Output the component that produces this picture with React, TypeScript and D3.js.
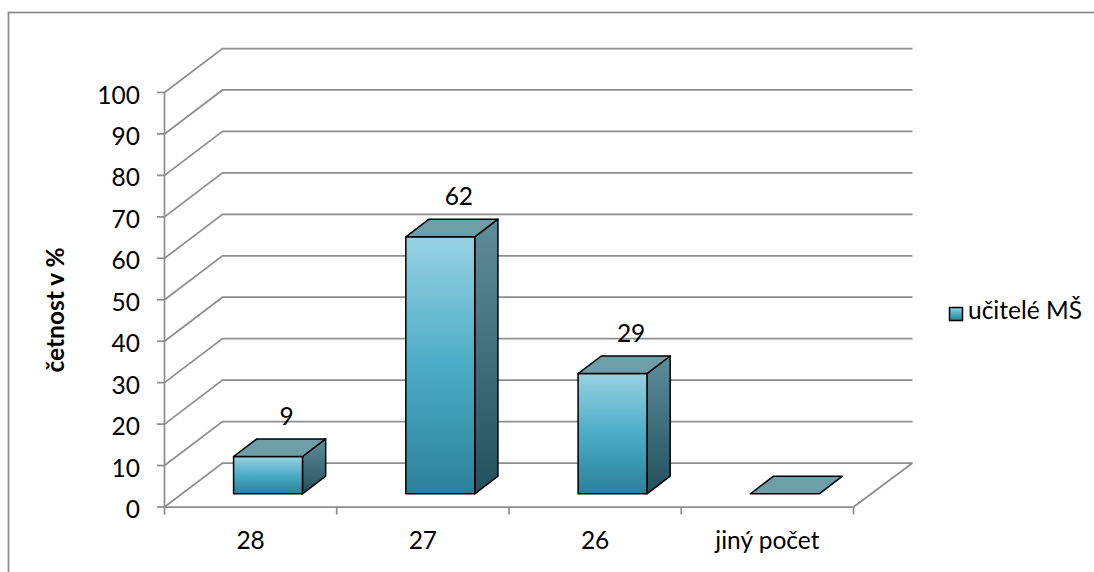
import React from 'react';
import * as d3 from 'd3';

// Share of respondents per answer (%)
const categories: string[] = ['28', '27', '26', 'jiný počet'];
const values: number[] = [9, 62, 29, 0];
const yTickValues: number[] = [0, 10, 20, 30, 40, 50, 60, 70, 80, 90, 100];
const seriesName = 'učitelé MŠ';
const axisTitle = 'četnost v %';

const W = 1094;
const H = 572;
const FONT = 'Lato, "Open Sans", sans-serif';
const FS = 24.5;

// Oblique projection of the plot box
const PLOT_LEFT = 164.5;
const PLOT_RIGHT = 853.5;
const BASE_Y = 507;
const TOP_Y = 92.5;
const DEPTH_DX = 58;
const DEPTH_DY = -44;
const FRONT_Z = 0.3;
const BACK_Z = 0.7;
const BAR_FRACTION = 0.4;

const xScale = d3.scaleBand<string>().domain(categories).range([PLOT_LEFT, PLOT_RIGHT]);
const yScale = d3.scaleLinear().domain([0, 100]).range([BASE_Y, TOP_Y]);

const dx = (z: number) => z * DEPTH_DX;
const dy = (z: number) => z * DEPTH_DY;

const pts = (p: [number, number][]) => p.map((q) => q.join(',')).join(' ');

export default function App() {
  const bw = xScale.bandwidth();
  const gridColor = '#8e8e8e';

  return (
    <svg
      width={W}
      height={H}
      style={{ position: 'absolute', left: 0, top: 0, background: '#fff' }}
      fontFamily={FONT}
    >
      <defs>
        <linearGradient id="frontGrad" x1="0" y1="0" x2="0" y2="1">
          <stop offset="0%" stopColor="#98d2e2" />
          <stop offset="50%" stopColor="#4bacc6" />
          <stop offset="100%" stopColor="#2b8199" />
        </linearGradient>
        <linearGradient id="sideGrad" x1="0" y1="0" x2="0" y2="1">
          <stop offset="0%" stopColor="#5f8e9a" />
          <stop offset="100%" stopColor="#22505d" />
        </linearGradient>
      </defs>

      {/* outer chart frame */}
      <rect x={8.5} y={12.5} width={1200} height={700} fill="none" stroke="#8c8c8c" strokeWidth={1.75} />

      {/* wall gridlines */}
      {yTickValues.map((t) => {
        const yy = yScale(t);
        return (
          <polyline
            key={'g' + t}
            points={pts([
              [PLOT_LEFT, yy],
              [PLOT_LEFT + DEPTH_DX, yy + DEPTH_DY],
              [PLOT_RIGHT + DEPTH_DX + 1, yy + DEPTH_DY],
            ])}
            fill="none"
            stroke={gridColor}
            strokeWidth={1.75}
          />
        );
      })}

      {/* floor right edge */}
      <line
        x1={PLOT_RIGHT}
        y1={BASE_Y}
        x2={PLOT_RIGHT + DEPTH_DX + 1}
        y2={BASE_Y + DEPTH_DY}
        stroke={gridColor}
        strokeWidth={1.75}
      />

      {/* bars */}
      {categories.map((c, i) => {
        const v = values[i];
        const bx = (xScale(c) as number) + bw * (1 - BAR_FRACTION) / 2;
        const w = bw * BAR_FRACTION;
        const yv = yScale(v);
        const y0 = yScale(0);
        const top: [number, number][] = [
          [bx + dx(FRONT_Z), yv + dy(FRONT_Z)],
          [bx + w + dx(FRONT_Z), yv + dy(FRONT_Z)],
          [bx + w + dx(BACK_Z), yv + dy(BACK_Z)],
          [bx + dx(BACK_Z), yv + dy(BACK_Z)],
        ];
        const side: [number, number][] = [
          [bx + w + dx(FRONT_Z), yv + dy(FRONT_Z)],
          [bx + w + dx(BACK_Z), yv + dy(BACK_Z)],
          [bx + w + dx(BACK_Z), y0 + dy(BACK_Z)],
          [bx + w + dx(FRONT_Z), y0 + dy(FRONT_Z)],
        ];
        return (
          <g key={'b' + c} stroke="#000" strokeWidth={1.5} strokeLinejoin="round">
            {v > 0 && (
              <>
                <polygon points={pts(side)} fill="url(#sideGrad)" />
                <rect
                  x={bx + dx(FRONT_Z)}
                  y={yv + dy(FRONT_Z)}
                  width={w}
                  height={y0 - yv}
                  fill="url(#frontGrad)"
                />
              </>
            )}
            <polygon points={pts(top)} fill="#6e9ea8" />
          </g>
        );
      })}

      {/* data labels */}
      {categories.map((c, i) =>
        values[i] > 0 ? (
          <text
            key={'l' + c}
            x={(xScale(c) as number) + bw / 2 + 36}
            y={yScale(values[i]) - 45}
            textAnchor="middle"
            fontSize={FS}
            fill="#000"
          >
            {values[i]}
          </text>
        ) : null
      )}

      {/* value axis */}
      <line x1={PLOT_LEFT} y1={BASE_Y} x2={PLOT_LEFT} y2={TOP_Y} stroke={gridColor} strokeWidth={1.75} />
      {yTickValues.map((t) => (
        <g key={'yt' + t}>
          <line x1={PLOT_LEFT - 7.5} x2={PLOT_LEFT} y1={yScale(t)} y2={yScale(t)} stroke={gridColor} strokeWidth={1.75} />
          <text x={140} y={yScale(t) + 11} textAnchor="end" fontSize={FS} fill="#000">
            {t}
          </text>
        </g>
      ))}

      {/* category axis */}
      <line x1={PLOT_LEFT} y1={BASE_Y} x2={PLOT_RIGHT} y2={BASE_Y} stroke={gridColor} strokeWidth={1.75} />
      {[...categories.map((c) => xScale(c) as number), PLOT_RIGHT].map((xx, i) => (
        <line key={'xt' + i} x1={xx} x2={xx} y1={BASE_Y} y2={BASE_Y + 7.5} stroke={gridColor} strokeWidth={1.75} />
      ))}
      {categories.map((c) => (
        <text key={'xl' + c} x={(xScale(c) as number) + bw / 2} y={549} textAnchor="middle" fontSize={FS} fill="#000">
          {c}
        </text>
      ))}

      {/* axis title */}
      <text
        transform={`translate(64, 310) rotate(-90)`}
        textAnchor="middle"
        fontSize={FS}
        fontWeight="bold"
        fill="#000"
      >
        {axisTitle}
      </text>

      {/* legend */}
      <rect x={949.5} y={307.5} width={13} height={13} fill="url(#frontGrad)" stroke="#000" strokeWidth={1.5} />
      <text x={968} y={319} fontSize={FS} fill="#000">
        {seriesName}
      </text>
    </svg>
  );
}
